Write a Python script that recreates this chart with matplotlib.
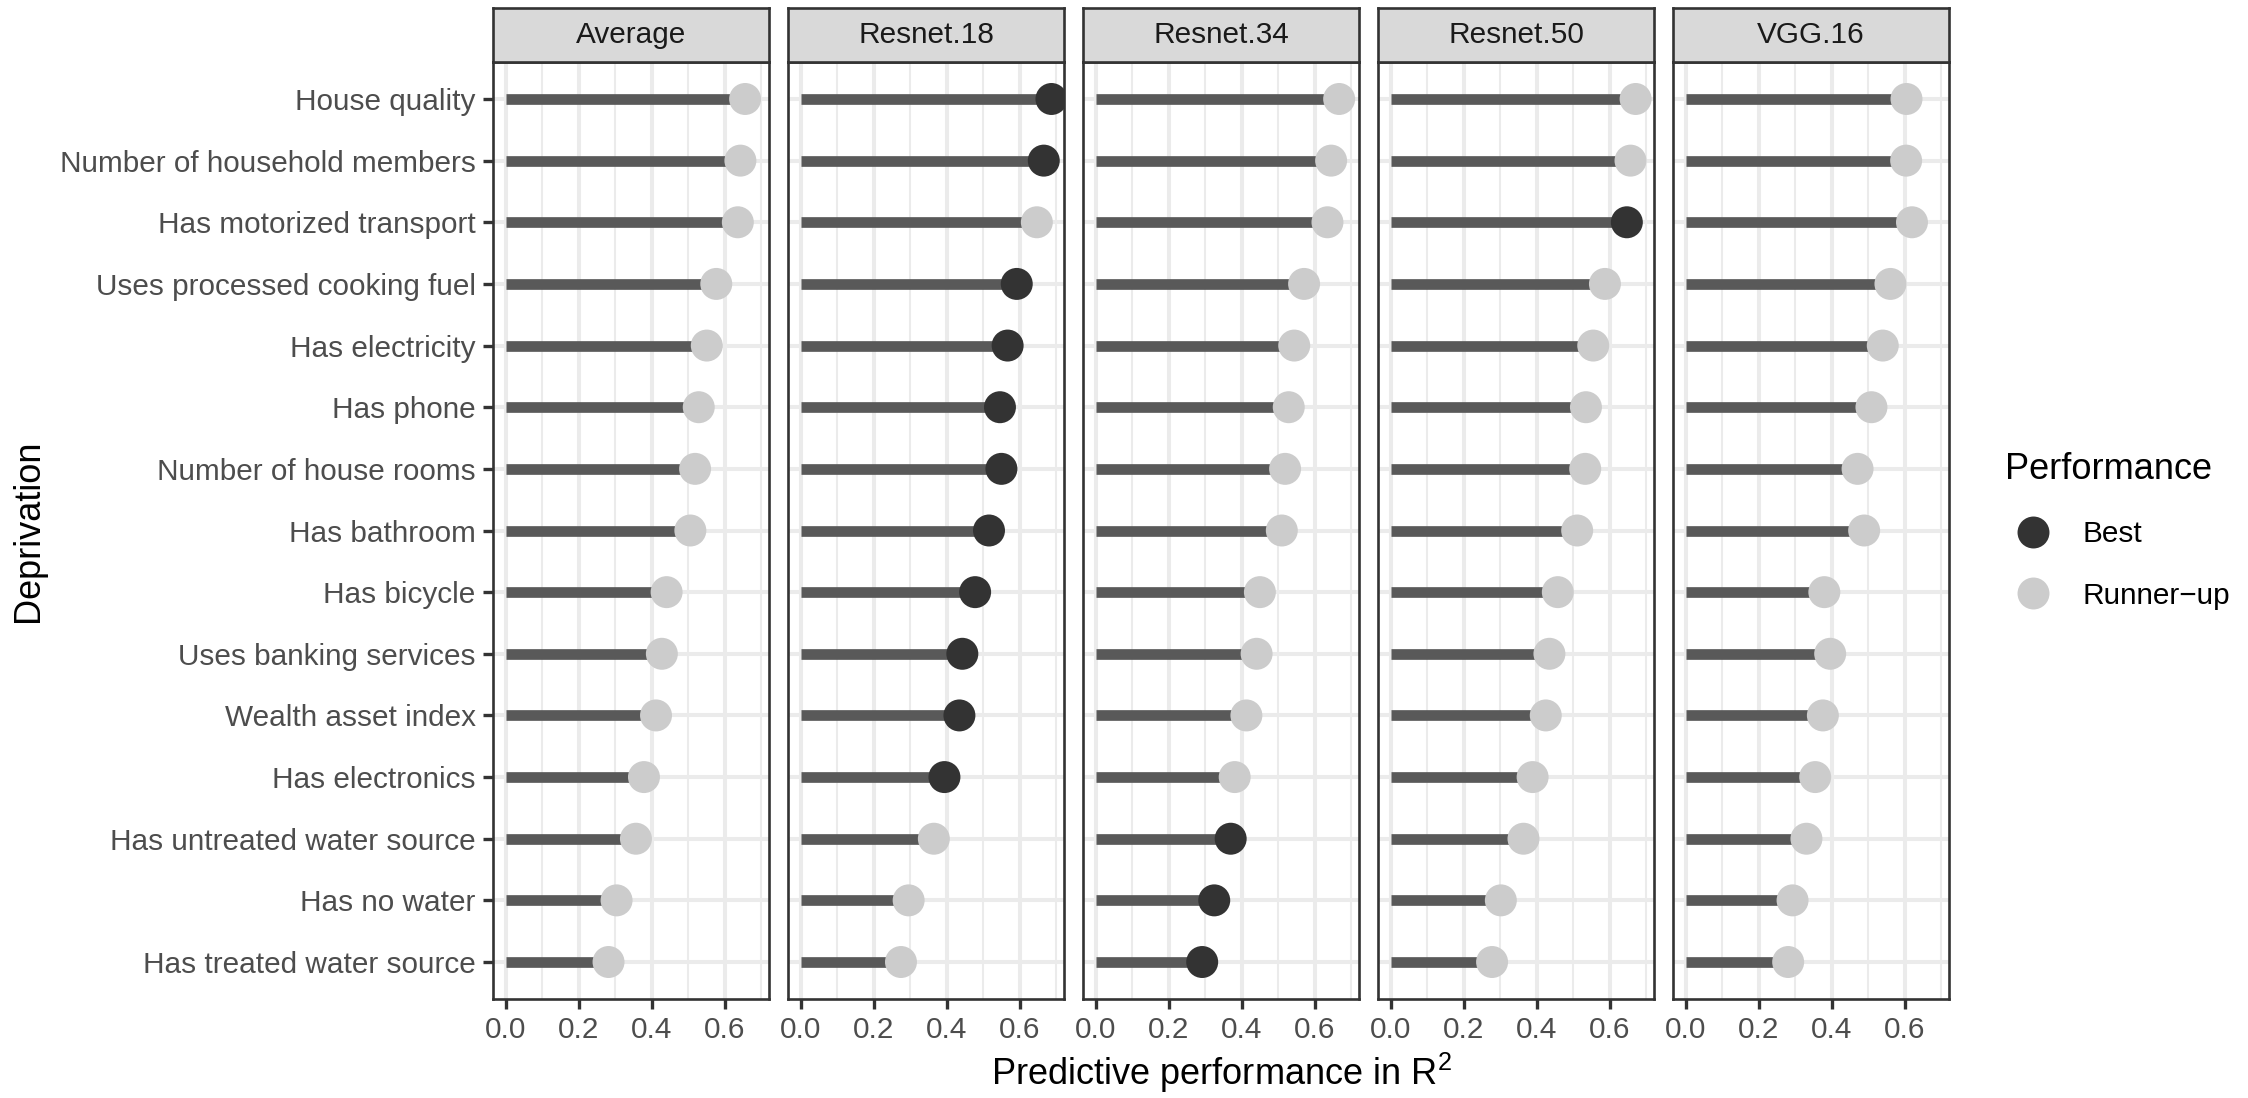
import matplotlib

matplotlib.use("Agg")
import matplotlib.pyplot as plt
import numpy as np
from matplotlib.lines import Line2D

plt.rcParams["font.family"] = ["Liberation Sans", "DejaVu Sans"]
plt.rcParams["mathtext.fontset"] = "custom"
plt.rcParams["mathtext.rm"] = "Liberation Sans"
plt.rcParams["mathtext.it"] = "Liberation Sans:italic"

# rows listed top to bottom
DEPRIVATIONS = [
    "House quality",
    "Number of household members",
    "Has motorized transport",
    "Uses processed cooking fuel",
    "Has electricity",
    "Has phone",
    "Number of house rooms",
    "Has bathroom",
    "Has bicycle",
    "Uses banking services",
    "Wealth asset index",
    "Has electronics",
    "Has untreated water source",
    "Has no water",
    "Has treated water source",
]

MODELS = ["Average", "Resnet.18", "Resnet.34", "Resnet.50", "VGG.16"]

AVERAGE = [0.656, 0.643, 0.636, 0.577, 0.551, 0.529, 0.519, 0.506,
           0.441, 0.428, 0.412, 0.379, 0.357, 0.304, 0.282]
RESNET18 = [0.687, 0.666, 0.647, 0.592, 0.567, 0.546, 0.550, 0.516,
            0.478, 0.443, 0.435, 0.394, 0.365, 0.296, 0.275]
RESNET34 = [0.667, 0.645, 0.635, 0.571, 0.544, 0.529, 0.519, 0.510,
            0.450, 0.441, 0.413, 0.381, 0.370, 0.325, 0.292]
RESNET50 = [0.671, 0.657, 0.647, 0.587, 0.555, 0.535, 0.533, 0.511,
            0.458, 0.435, 0.425, 0.389, 0.364, 0.302, 0.278]
VGG16 = [0.605, 0.604, 0.620, 0.561, 0.540, 0.509, 0.471, 0.489,
         0.380, 0.396, 0.376, 0.355, 0.331, 0.293, 0.281]

# 1 = Best, 0 = Runner-up
AVERAGE_BEST = [0] * 15
RESNET18_BEST = [1, 1, 0, 1, 1, 1, 1, 1, 1, 1, 1, 1, 0, 0, 0]
RESNET34_BEST = [0, 0, 0, 0, 0, 0, 0, 0, 0, 0, 0, 0, 1, 1, 1]
RESNET50_BEST = [0, 0, 1, 0, 0, 0, 0, 0, 0, 0, 0, 0, 0, 0, 0]
VGG16_BEST = [0] * 15

VALUES = [AVERAGE, RESNET18, RESNET34, RESNET50, VGG16]
BEST = [AVERAGE_BEST, RESNET18_BEST, RESNET34_BEST, RESNET50_BEST, VGG16_BEST]

X_TICKS = [0.0, 0.2, 0.4, 0.6]
X_MINOR = [0.1, 0.3, 0.5, 0.7]

BEST_COLOR = "#333333"
RUNNER_COLOR = "#cccccc"
SEG_COLOR = "#595959"
GRID_COLOR = "#ebebeb"
FRAME_COLOR = "#333333"

W, H = 2248, 1098
PANEL_LEFTS = [493, 788, 1083, 1378, 1673]
PANEL_W = 276
PANEL_TOP, PANEL_BOTTOM = 62, 999
STRIP_TOP = 8

TICK_SIZE = 21.4
TITLE_SIZE = 26


def fx(px):
    return px / W


def fy(py):
    return 1 - py / H


fig = plt.figure(figsize=(W / 100, H / 100), dpi=100, facecolor="white")

n = len(DEPRIVATIONS)
y = np.arange(n, 0, -1)
xmax = max(max(v) for v in VALUES)
xlim = (-0.05 * xmax, 1.05 * xmax)

for i, (model, vals, best) in enumerate(zip(MODELS, VALUES, BEST)):
    left = PANEL_LEFTS[i]
    ax = fig.add_axes([fx(left), fy(PANEL_BOTTOM), fx(PANEL_W),
                       (PANEL_BOTTOM - PANEL_TOP) / H])
    ax.hlines(y, 0, vals, colors=SEG_COLOR, lw=7.7, capstyle="butt", zorder=2)
    colors = [BEST_COLOR if b else RUNNER_COLOR for b in best]
    ax.scatter(vals, y, s=530, c=colors, linewidths=0, zorder=3)
    ax.set_xlim(*xlim)
    ax.set_ylim(0.4, n + 0.6)
    ax.set_xticks(X_TICKS)
    ax.set_xticklabels([f"{t:.1f}" for t in X_TICKS])
    ax.set_xticks(X_MINOR, minor=True)
    ax.set_yticks(y)
    ax.grid(True, which="major", color=GRID_COLOR, lw=2.9)
    ax.grid(True, which="minor", axis="x", color=GRID_COLOR, lw=1.45)
    ax.set_axisbelow(True)
    ax.tick_params(which="minor", length=0)
    ax.tick_params(which="major", length=7.5, width=2.4, color=FRAME_COLOR,
                   labelsize=TICK_SIZE, labelcolor="#4d4d4d", pad=5)
    if i == 0:
        ax.set_yticklabels(DEPRIVATIONS)
    else:
        ax.tick_params(axis="y", left=False, labelleft=False)
    for sp in ax.spines.values():
        sp.set_color(FRAME_COLOR)
        sp.set_linewidth(1.9)

    strip = fig.add_axes([fx(left), fy(PANEL_TOP), fx(PANEL_W),
                          (PANEL_TOP - STRIP_TOP) / H])
    strip.set_facecolor("#d9d9d9")
    strip.set_xticks([])
    strip.set_yticks([])
    for sp in strip.spines.values():
        sp.set_color(FRAME_COLOR)
        sp.set_linewidth(1.9)
    strip.text(0.5, 0.5, model, ha="center", va="center", fontsize=TICK_SIZE,
               color="#1a1a1a", transform=strip.transAxes)

center_x = (PANEL_LEFTS[0] + PANEL_LEFTS[-1] + PANEL_W) / 2
fig.text(fx(center_x), fy(1073), r"Predictive performance in $\mathregular{R^2}$",
         ha="center", va="center", fontsize=TITLE_SIZE)
fig.text(fx(29), fy((PANEL_TOP + PANEL_BOTTOM) / 2), "Deprivation", rotation=90,
         ha="center", va="center", fontsize=TITLE_SIZE)

handles = [
    Line2D([0], [0], marker="o", ls="none", ms=23, mfc=BEST_COLOR, mec="none"),
    Line2D([0], [0], marker="o", ls="none", ms=23, mfc=RUNNER_COLOR, mec="none"),
]
fig.legend(handles, ["Best", "Runner\u2212up"], title="Performance",
           loc="upper left", bbox_to_anchor=(fx(2005), fy(452)), frameon=False,
           fontsize=TICK_SIZE, title_fontsize=TITLE_SIZE, alignment="left",
           borderpad=0, borderaxespad=0, handlelength=1.9, handletextpad=0.7,
           labelspacing=1.12)

fig.savefig("out.png", dpi=100, facecolor="white")
